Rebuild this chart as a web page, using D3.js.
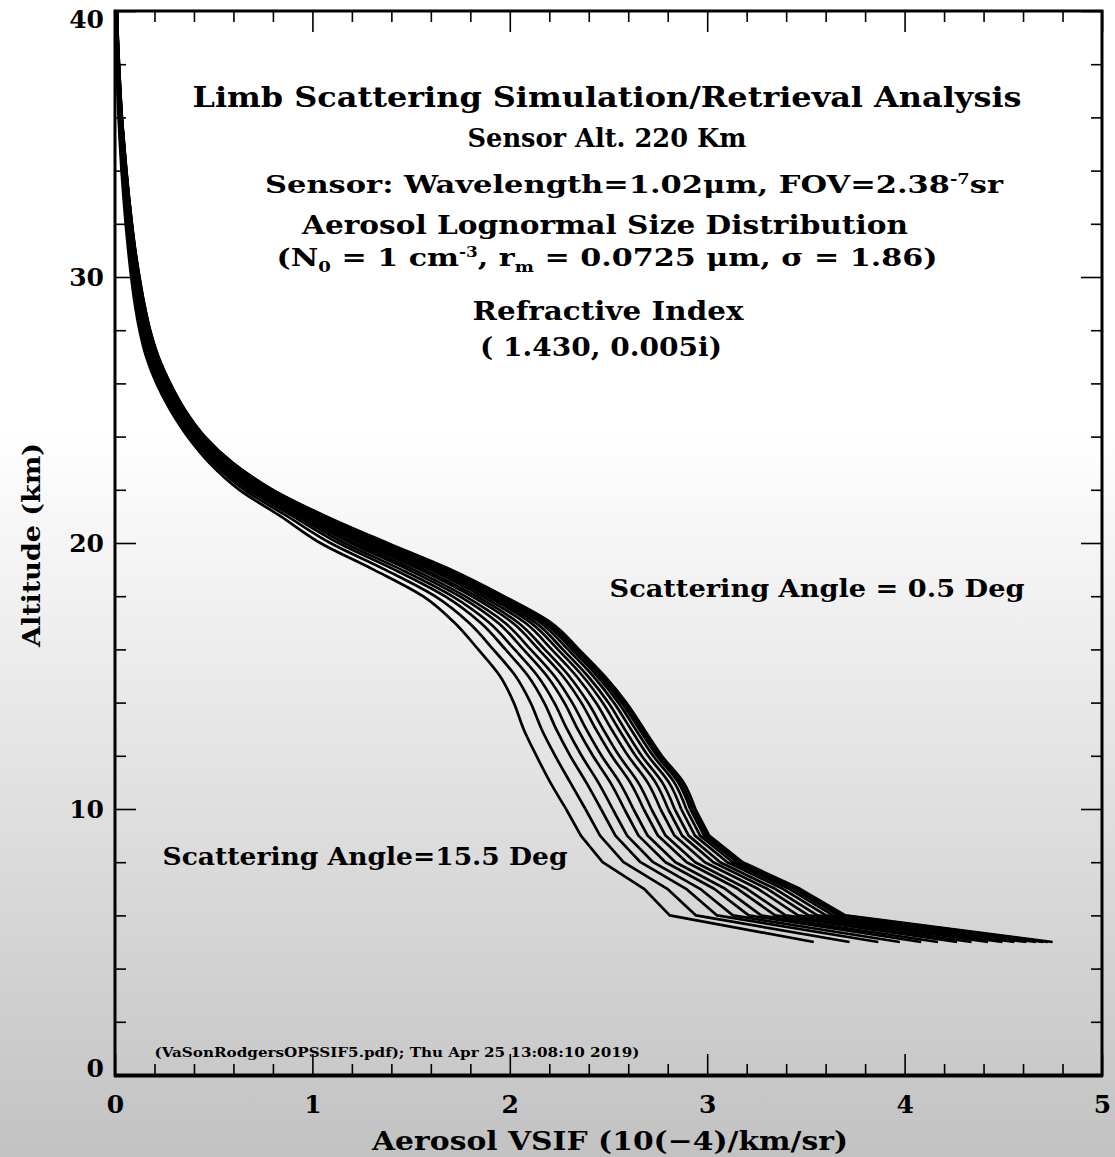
<!DOCTYPE html>
<html>
<head>
<meta charset="utf-8">
<script src="https://cdn.jsdelivr.net/npm/d3@7"></script>
<style>
  html, body { margin: 0; padding: 0; }
  body { width: 1115px; height: 1157px; overflow: hidden; }
  svg text { font-family: "DejaVu Serif", serif; font-weight: bold; fill: #000; }
</style>
</head>
<body>
<script>
// scattering angles (deg), one curve each
const angles = [0.5, 1.5, 2.5, 3.5, 4.5, 5.5, 6.5, 7.5, 8.5, 9.5, 10.5, 11.5, 12.5, 13.5, 14.5, 15.5];

// altitude grid (km)
const altitudes = [40, 39, 38, 37, 36, 35, 34, 33, 32, 31, 30, 29, 28, 27, 26, 25, 24, 23, 22, 21,
                   20, 19, 18, 17, 16, 15, 14, 13, 12, 11, 10, 9, 8, 7, 6, 5];

// aerosol VSIF (10^-4 /km/sr), one row per altitude, columns follow `angles`
const vsif = [
  [0.010,0.010,0.010,0.010,0.009,0.009,0.009,0.008,0.008,0.007,0.007,0.006,0.006,0.005,0.004,0.003],
  [0.014,0.014,0.014,0.013,0.013,0.013,0.012,0.012,0.011,0.011,0.010,0.010,0.009,0.008,0.007,0.006],
  [0.020,0.020,0.020,0.019,0.019,0.018,0.018,0.017,0.016,0.016,0.015,0.014,0.013,0.012,0.011,0.009],
  [0.027,0.027,0.026,0.026,0.025,0.025,0.024,0.023,0.022,0.021,0.020,0.019,0.018,0.017,0.015,0.013],
  [0.035,0.035,0.034,0.034,0.033,0.032,0.031,0.030,0.029,0.028,0.027,0.026,0.024,0.023,0.021,0.018],
  [0.046,0.046,0.045,0.045,0.044,0.043,0.042,0.040,0.039,0.038,0.036,0.034,0.033,0.031,0.028,0.025],
  [0.058,0.057,0.057,0.056,0.055,0.054,0.053,0.051,0.049,0.048,0.046,0.044,0.042,0.040,0.037,0.033],
  [0.071,0.070,0.070,0.069,0.068,0.067,0.065,0.063,0.061,0.060,0.058,0.056,0.053,0.051,0.047,0.043],
  [0.086,0.085,0.085,0.084,0.082,0.081,0.079,0.077,0.075,0.073,0.071,0.068,0.066,0.063,0.059,0.054],
  [0.103,0.102,0.102,0.100,0.099,0.097,0.095,0.093,0.091,0.089,0.086,0.083,0.080,0.077,0.072,0.067],
  [0.124,0.123,0.122,0.121,0.119,0.117,0.115,0.113,0.110,0.107,0.104,0.101,0.097,0.093,0.088,0.082],
  [0.148,0.147,0.146,0.145,0.143,0.140,0.138,0.135,0.132,0.129,0.125,0.122,0.117,0.113,0.107,0.100],
  [0.178,0.177,0.176,0.174,0.172,0.169,0.167,0.163,0.160,0.156,0.152,0.148,0.143,0.139,0.132,0.124],
  [0.220,0.219,0.218,0.216,0.213,0.210,0.207,0.203,0.199,0.195,0.190,0.186,0.180,0.175,0.167,0.158],
  [0.280,0.279,0.277,0.275,0.272,0.269,0.265,0.261,0.256,0.252,0.246,0.241,0.235,0.229,0.220,0.210],
  [0.355,0.353,0.352,0.350,0.347,0.343,0.339,0.335,0.329,0.325,0.319,0.314,0.307,0.300,0.291,0.280],
  [0.455,0.453,0.452,0.449,0.445,0.441,0.437,0.432,0.425,0.420,0.413,0.407,0.399,0.391,0.381,0.368],
  [0.600,0.598,0.595,0.592,0.587,0.581,0.575,0.568,0.559,0.552,0.542,0.534,0.523,0.512,0.498,0.480],
  [0.800,0.797,0.793,0.788,0.781,0.773,0.764,0.754,0.742,0.732,0.718,0.706,0.691,0.676,0.655,0.630],
  [1.070,1.065,1.061,1.054,1.045,1.033,1.022,1.008,0.992,0.978,0.960,0.943,0.923,0.902,0.874,0.840],
  [1.380,1.373,1.366,1.356,1.343,1.326,1.309,1.288,1.264,1.244,1.217,1.193,1.162,1.132,1.091,1.040],
  [1.700,1.692,1.684,1.673,1.657,1.638,1.618,1.595,1.567,1.544,1.513,1.485,1.450,1.415,1.368,1.310],
  [1.970,1.962,1.954,1.941,1.925,1.904,1.884,1.859,1.831,1.806,1.773,1.744,1.708,1.671,1.621,1.560],
  [2.210,2.200,2.190,2.176,2.156,2.132,2.107,2.078,2.043,2.014,1.975,1.940,1.896,1.852,1.793,1.720],
  [2.350,2.340,2.330,2.314,2.294,2.268,2.243,2.212,2.177,2.146,2.105,2.069,2.024,1.978,1.916,1.840],
  [2.480,2.469,2.459,2.443,2.422,2.395,2.369,2.337,2.300,2.268,2.226,2.188,2.141,2.093,2.029,1.950],
  [2.590,2.579,2.567,2.550,2.527,2.499,2.470,2.436,2.396,2.362,2.316,2.276,2.225,2.174,2.105,2.020],
  [2.680,2.668,2.656,2.637,2.613,2.582,2.552,2.515,2.473,2.436,2.387,2.344,2.290,2.235,2.161,2.070],
  [2.770,2.757,2.745,2.726,2.700,2.668,2.637,2.599,2.554,2.516,2.465,2.421,2.364,2.306,2.230,2.135],
  [2.880,2.866,2.853,2.833,2.806,2.772,2.738,2.698,2.650,2.610,2.556,2.509,2.448,2.387,2.306,2.205],
  [2.940,2.927,2.914,2.894,2.868,2.835,2.802,2.763,2.717,2.678,2.626,2.580,2.521,2.462,2.383,2.285],
  [3.010,2.997,2.984,2.964,2.938,2.906,2.873,2.834,2.789,2.750,2.698,2.652,2.594,2.535,2.457,2.360],
  [3.180,3.166,3.152,3.130,3.102,3.066,3.031,2.988,2.939,2.896,2.839,2.789,2.726,2.662,2.576,2.470],
  [3.470,3.454,3.438,3.415,3.383,3.344,3.304,3.257,3.201,3.154,3.091,3.035,2.964,2.893,2.798,2.680],
  [3.700,3.682,3.664,3.638,3.602,3.558,3.513,3.460,3.397,3.344,3.273,3.210,3.130,3.050,2.943,2.810],
  [4.750,4.726,4.702,4.665,4.617,4.556,4.496,4.423,4.339,4.266,4.169,4.084,3.976,3.867,3.721,3.540]
];

const xMajor = [0, 1, 2, 3, 4, 5];
const xMinor = [0.2,0.4,0.6,0.8,1.2,1.4,1.6,1.8,2.2,2.4,2.6,2.8,3.2,3.4,3.6,3.8,4.2,4.4,4.6,4.8];
const yMajor = [0, 10, 20, 30, 40];
const yMinor = [2,4,6,8,12,14,16,18,22,24,26,28,32,34,36,38];

const width = 1115;
const height = 1157;
const marginTop = 11;
const marginRight = 13;
const marginBottom = 82;
const marginLeft = 115;

const x = d3.scaleLinear().domain([0, 5]).range([marginLeft, width - marginRight]);
const y = d3.scaleLinear().domain([0, 40]).range([height - marginBottom, marginTop]);

const svg = d3.select("body").append("svg")
  .attr("width", width)
  .attr("height", height)
  .attr("viewBox", [0, 0, width, height]);

// page background fades to grey toward the bottom
const grad = svg.append("defs").append("linearGradient")
  .attr("id", "bg").attr("x1", 0).attr("y1", 0).attr("x2", 0).attr("y2", 1);
grad.append("stop").attr("offset", 0).attr("stop-color", "#ffffff");
grad.append("stop").attr("offset", 0.37).attr("stop-color", "#ffffff");
grad.append("stop").attr("offset", 1).attr("stop-color", "#c2c2c2");
svg.append("rect").attr("width", width).attr("height", height).attr("fill", "url(#bg)");

// curves: smooth above 10 km, straight segments below (the model grid shows there)
const curves = angles.map((a, i) => altitudes.map((alt, j) => [vsif[j][i], alt]));
const smooth = d3.line().x(d => x(d[0])).y(d => y(d[1])).curve(d3.curveMonotoneY);
const straight = d3.line().x(d => x(d[0])).y(d => y(d[1]));

const gCurves = svg.append("g")
  .attr("fill", "none")
  .attr("stroke", "#000")
  .attr("stroke-width", 2.7)
  .attr("stroke-linejoin", "round");
gCurves.selectAll("path.upper")
  .data(curves)
  .join("path")
  .attr("class", "upper")
  .attr("d", d => smooth(d.filter(p => p[1] >= 10)));
gCurves.selectAll("path.lower")
  .data(curves)
  .join("path")
  .attr("class", "lower")
  .attr("d", d => straight(d.filter(p => p[1] <= 10)));

// axes, ticks pointing inward on all four sides
const majorLen = 21, minorLen = 11;
const axBottom = svg.append("g").attr("transform", `translate(0,${y(0)})`);
axBottom.append("g").call(d3.axisBottom(x).tickValues(xMajor).tickSize(-majorLen).tickPadding(20).tickFormat(d3.format("d")));
axBottom.append("g").call(d3.axisBottom(x).tickValues(xMinor).tickSize(-minorLen).tickFormat(""));
const axTop = svg.append("g").attr("transform", `translate(0,${y(40)})`);
axTop.append("g").call(d3.axisTop(x).tickValues(xMajor).tickSize(-majorLen).tickFormat(""));
axTop.append("g").call(d3.axisTop(x).tickValues(xMinor).tickSize(-minorLen).tickFormat(""));
const axLeft = svg.append("g").attr("transform", `translate(${x(0)},0)`);
axLeft.append("g").call(d3.axisLeft(y).tickValues(yMajor).tickSize(-majorLen).tickPadding(11).tickFormat(d3.format("d")));
axLeft.append("g").call(d3.axisLeft(y).tickValues(yMinor).tickSize(-minorLen).tickFormat(""));
const axRight = svg.append("g").attr("transform", `translate(${x(5)},0)`);
axRight.append("g").call(d3.axisRight(y).tickValues(yMajor).tickSize(-majorLen).tickFormat(""));
axRight.append("g").call(d3.axisRight(y).tickValues(yMinor).tickSize(-minorLen).tickFormat(""));

svg.selectAll(".domain").remove();
svg.selectAll(".tick line").attr("stroke", "#000").attr("stroke-width", 1.6);
svg.selectAll(".tick text")
  .style("font-family", "'DejaVu Serif', serif")
  .style("font-weight", "bold")
  .style("font-size", "25px")
  .attr("fill", "#000");
axLeft.selectAll(".tick text").attr("dy", d => d === 40 ? "0.65em" : d === 0 ? "0.05em" : "0.35em");

// frame
svg.append("rect")
  .attr("x", x(0)).attr("y", y(40))
  .attr("width", x(5) - x(0)).attr("height", y(0) - y(40))
  .attr("fill", "none").attr("stroke", "#000").attr("stroke-width", 3);
svg.append("line")
  .attr("x1", x(0) - 1).attr("x2", x(5) + 1)
  .attr("y1", y(0) + 1).attr("y2", y(0) + 1)
  .attr("stroke", "#000").attr("stroke-width", 3);

// annotation text
const label = (tx, ty, size, len, build) => {
  const t = svg.append("text")
    .attr("x", tx).attr("y", ty)
    .attr("text-anchor", "middle")
    .style("font-size", size + "px")
    .attr("textLength", len)
    .attr("lengthAdjust", "spacingAndGlyphs");
  build(t);
  return t;
};
const plain = s => t => t.text(s);

label(607, 107, 27, 829, plain("Limb Scattering Simulation/Retrieval Analysis"));
label(607, 147, 26, 279, plain("Sensor Alt. 220 Km"));
label(634, 193, 24, 738, t => {
  t.append("tspan").text("Sensor: Wavelength=1.02\u03bcm, FOV=2.38");
  t.append("tspan").attr("dy", -9).style("font-size", "14px").text("-7");
  t.append("tspan").attr("dy", 9).text("sr");
});
label(605, 234, 26, 606, plain("Aerosol Lognormal Size Distribution"));
label(607, 266, 25, 661, t => {
  t.append("tspan").text("(N");
  t.append("tspan").attr("dy", 6).style("font-size", "15px").text("0");
  t.append("tspan").attr("dy", -6).text(" = 1 cm");
  t.append("tspan").attr("dy", -9).style("font-size", "14px").text("-3");
  t.append("tspan").attr("dy", 9).text(", r");
  t.append("tspan").attr("dy", 6).style("font-size", "15px").text("m");
  t.append("tspan").attr("dy", -6).text(" = 0.0725 \u03bcm, \u03c3 = 1.86)");
});
label(608, 320, 26, 271, plain("Refractive Index"));
label(601, 356, 26, 242, plain("( 1.430, 0.005i)"));

label(817, 597, 24, 415, plain("Scattering Angle = 0.5 Deg"));
label(365, 865, 24, 405, plain("Scattering Angle=15.5 Deg"));

label(397, 1057, 12, 485, plain("(VaSonRodgersOPSSIF5.pdf); Thu Apr 25 13:08:10 2019)"));

label(610, 1150, 26, 476, plain("Aerosol VSIF (10(\u22124)/km/sr)"));
svg.append("text")
  .attr("transform", `translate(40,545) rotate(-90)`)
  .attr("text-anchor", "middle")
  .style("font-size", "25px")
  .attr("textLength", 204)
  .attr("lengthAdjust", "spacingAndGlyphs")
  .text("Altitude (km)");
</script>
</body>
</html>
